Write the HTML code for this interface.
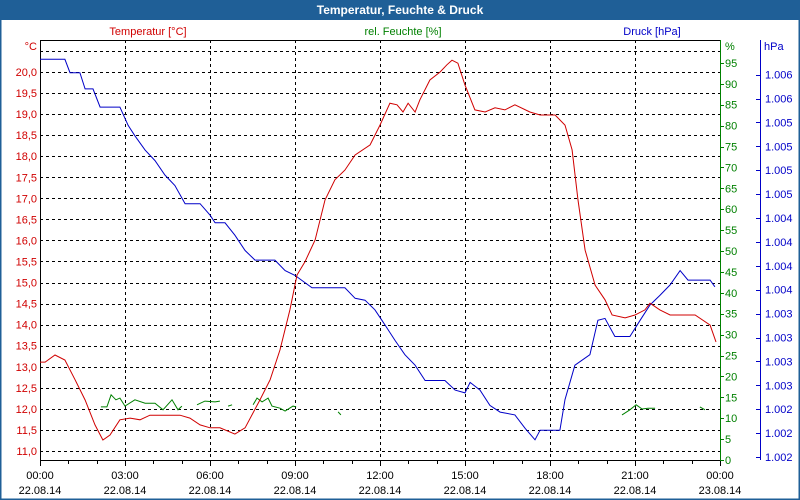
<!DOCTYPE html>
<html><head><meta charset="utf-8"><style>
html,body{margin:0;padding:0;background:#fff}
svg{display:block;font-family:"Liberation Sans",Tahoma,sans-serif}
</style></head><body>
<svg id="chart" width="800" height="500" viewBox="0 0 800 500">
<rect x="0" y="0" width="800" height="500" fill="#fff"/>
<rect x="0" y="0" width="800" height="20" fill="#1f5f97"/>
<rect x="0.5" y="0.5" width="799" height="499" fill="none" stroke="#1f5f97" stroke-width="2"/>
<text x="400" y="14" text-anchor="middle" fill="#fff" font-size="12" font-weight="bold">Temperatur, Feuchte &amp; Druck</text>
<text x="148" y="35" text-anchor="middle" fill="#d00000" font-size="11">Temperatur [°C]</text>
<text x="403" y="35" text-anchor="middle" fill="#008000" font-size="11">rel. Feuchte [%]</text>
<text x="652" y="35" text-anchor="middle" fill="#0000c8" font-size="11">Druck [hPa]</text>
<text x="37" y="50" text-anchor="end" fill="#d00000" font-size="11">°C</text>
<text x="725" y="50" fill="#008000" font-size="11">%</text>
<text x="764" y="50" fill="#0000c8" font-size="11">hPa</text>
<g id="grid"></g><g id="axes"></g><g id="series"></g>
</svg>
<script>
const tempTicks=[11.0,11.5,12.0,12.5,13.0,13.5,14.0,14.5,15.0,15.5,16.0,16.5,17.0,17.5,18.0,18.5,19.0,19.5,20.0];
const humTicks=[0,5,10,15,20,25,30,35,40,45,50,55,60,65,70,75,80,85,90,95];
const presTickLabels=["1.002","1.002","1.002","1.003","1.003","1.003","1.003","1.004","1.004","1.004","1.004","1.005","1.005","1.005","1.005","1.006","1.006"];
const timeTicks=[0,3,6,9,12,15,18,21,24];
const timeLabels=["00:00","03:00","06:00","09:00","12:00","15:00","18:00","21:00","00:00"];
const dateLabels=["22.08.14","22.08.14","22.08.14","22.08.14","22.08.14","22.08.14","22.08.14","22.08.14","23.08.14"];
const tempTime=[0,.18,.53,.88,1.24,1.59,1.94,2.22,2.47,2.82,3.18,3.53,3.88,4.94,5.29,5.65,6.0,6.35,6.88,7.24,7.76,8.12,8.47,8.82,9.07,9.35,9.71,10.06,10.41,10.76,11.12,11.65,12.0,12.35,12.6,12.81,12.99,13.24,13.41,13.76,14.12,14.36,14.54,14.75,15.0,15.35,15.71,16.06,16.41,16.76,17.29,17.65,18.18,18.53,18.78,18.99,19.24,19.59,19.94,20.19,20.65,21.0,21.35,21.53,21.88,22.24,23.12,23.65,23.86];
const tempValues=[13.11,13.11,13.28,13.16,12.69,12.21,11.62,11.26,11.38,11.74,11.78,11.74,11.85,11.85,11.78,11.62,11.55,11.55,11.40,11.55,12.21,12.69,13.40,14.35,15.18,15.49,16.01,16.96,17.44,17.67,18.03,18.27,18.74,19.26,19.22,19.05,19.26,19.05,19.34,19.81,20.0,20.17,20.28,20.21,19.69,19.10,19.05,19.15,19.10,19.22,19.05,18.98,18.98,18.74,18.15,16.96,15.77,14.94,14.59,14.23,14.16,14.23,14.35,14.51,14.35,14.23,14.23,13.99,13.59];
const presTime=[0,.88,1.06,1.41,1.59,1.87,2.12,2.82,3.11,3.35,3.71,4.06,4.41,4.76,5.12,5.65,6.0,6.18,6.53,6.88,7.24,7.59,8.29,8.65,9.0,9.6,10.76,11.12,11.47,11.82,12.18,12.53,12.88,13.24,13.59,14.29,14.65,15.0,15.18,15.53,15.88,16.24,16.76,17.12,17.47,17.65,18.35,18.53,18.88,19.41,19.69,19.94,20.29,20.82,21.18,21.53,21.88,22.24,22.59,22.87,23.65,23.82];
const presValues=[1006.16,1006.16,1006.02,1006.02,1005.85,1005.85,1005.66,1005.66,1005.47,1005.36,1005.21,1005.10,1004.95,1004.84,1004.65,1004.65,1004.53,1004.45,1004.45,1004.32,1004.16,1004.06,1004.06,1003.95,1003.90,1003.77,1003.77,1003.66,1003.64,1003.54,1003.38,1003.22,1003.07,1002.96,1002.80,1002.80,1002.70,1002.67,1002.78,1002.70,1002.54,1002.47,1002.44,1002.30,1002.18,1002.28,1002.28,1002.60,1002.96,1003.07,1003.43,1003.45,1003.26,1003.26,1003.43,1003.59,1003.69,1003.80,1003.95,1003.85,1003.85,1003.78];
const humTime=[2.15,2.36,2.51,2.68,2.82,3.0,3.35,3.71,4.06,4.34,4.66,4.87,5.01,null,5.54,5.82,6.18,6.35,null,6.64,6.78,null,7.52,7.66,7.84,8.05,8.19,8.47,8.65,8.93,9.04,null,10.52,10.62,null,20.54,20.82,21.04,21.25,21.46,21.71,null,23.29,23.47];
const humValues=[12.7,12.7,15.6,14.4,14.8,12.9,14.4,13.6,13.6,12.0,14.4,12.0,12.9,null,13.2,14.1,13.9,14.1,null,12.9,13.2,null,13.2,14.8,13.9,14.8,12.9,12.4,11.7,12.9,12.7,null,11.5,10.8,null,10.8,12.0,13.2,12.2,12.4,12.4,null,12.7,12.0];

const L=40,R=720,T=40,B=460;
const xS=h=>L+h*(R-L)/24;
const yT=v=>72+(20-v)*42.11;
const yH=v=>460-v*4.18;
const presMin=1002.0,presStep=0.25;
const yP=v=>457-(v-presMin)/presStep*23.9;
const NS="http://www.w3.org/2000/svg";
function mk(tag,attrs,parent,txt){const e=document.createElementNS(NS,tag);for(const k in attrs)e.setAttribute(k,attrs[k]);if(txt!==undefined)e.textContent=txt;parent.appendChild(e);return e;}
const grid=document.getElementById('grid'),axes=document.getElementById('axes'),series=document.getElementById('series');

// horizontal grid + temp labels
for(let v=11.0;v<=20.51;v+=0.5){
  const y=Math.round(yT(v))+0.5;
  const g=mk('line',{x1:L,x2:R,y1:y,y2:y,stroke:'#000','stroke-dasharray':'3,3','stroke-width':1},grid);
  
  
}
tempTicks.forEach(v=>{
  const t=mk('text',{x:37,y:yT(v)+4,'text-anchor':'end',fill:'#d00000','font-size':11},axes,v.toFixed(1).replace('.',','));
  
  
});
// vertical grid + x labels
timeTicks.forEach((h,i)=>{
  const x=Math.round(xS(h))+0.5;
  if(i>0&&i<timeTicks.length-1){
    const g=mk('line',{x1:x,x2:x,y1:T,y2:B,stroke:'#000','stroke-dasharray':'3,3'},grid);
    
    
  }
  const t1=mk('text',{x:xS(h),y:479,'text-anchor':'middle',fill:'#000','font-size':11},axes,timeLabels[i]);
  
  
  const t2=mk('text',{x:xS(h),y:494,'text-anchor':'middle',fill:'#000','font-size':11},axes,dateLabels[i]);
  
  
});
for(let h=0;h<=24;h++){
  const x=Math.round(xS(h))+0.5;
  const k=mk('line',{x1:x,x2:x,y1:B,y2:B+(h%3===0?6:4),stroke:'#000'},axes);
  
  
}
// axes lines
let a=mk('line',{x1:L+0.5,x2:L+0.5,y1:T,y2:B,stroke:'#000'},axes);
a=mk('line',{x1:L,x2:R,y1:T+0.5,y2:T+0.5,stroke:'#000'},axes);
a=mk('line',{x1:L,x2:R,y1:B+0.5,y2:B+0.5,stroke:'#000'},axes);
a=mk('line',{x1:R+0.5,x2:R+0.5,y1:T,y2:B+1,stroke:'#008000'},axes);
a=mk('line',{x1:760.5,x2:760.5,y1:T,y2:B,stroke:'#0000c8'},axes);
humTicks.forEach(v=>{
  const y=Math.round(yH(v))+0.5;
  const k=mk('line',{x1:R,x2:R+4,y1:y,y2:y,stroke:'#008000'},axes);
  
  
  const t=mk('text',{x:725,y:yH(v)+4,fill:'#008000','font-size':11},axes,String(v));
  
  
});
presTickLabels.forEach((lab,i)=>{
  const v=presMin+i*presStep;
  const y=Math.round(yP(v))+0.5;
  const k=mk('line',{x1:756,x2:760,y1:y,y2:y,stroke:'#0000c8'},axes);
  
  
  const t=mk('text',{x:765,y:yP(v)+4,fill:'#0000c8','font-size':11},axes,lab);
  
  
});
function path(ts,vs,yf){
  let d='',pen=false;
  for(let i=0;i<ts.length;i++){
    if(ts[i]===null||vs[i]===null){pen=false;continue;}
    d+=(pen?'L':'M')+xS(ts[i]).toFixed(1)+','+yf(vs[i]).toFixed(1);pen=true;
  }
  return d;
}
let p=mk('path',{d:path(presTime,presValues,yP),fill:'none',stroke:'#0000c8','stroke-width':1},series);


p=mk('path',{d:path(humTime,humValues,yH),fill:'none',stroke:'#008000','stroke-width':1},series);


p=mk('path',{d:path(tempTime,tempValues,yT),fill:'none',stroke:'#d00000','stroke-width':1},series);


</script>
</body></html>
